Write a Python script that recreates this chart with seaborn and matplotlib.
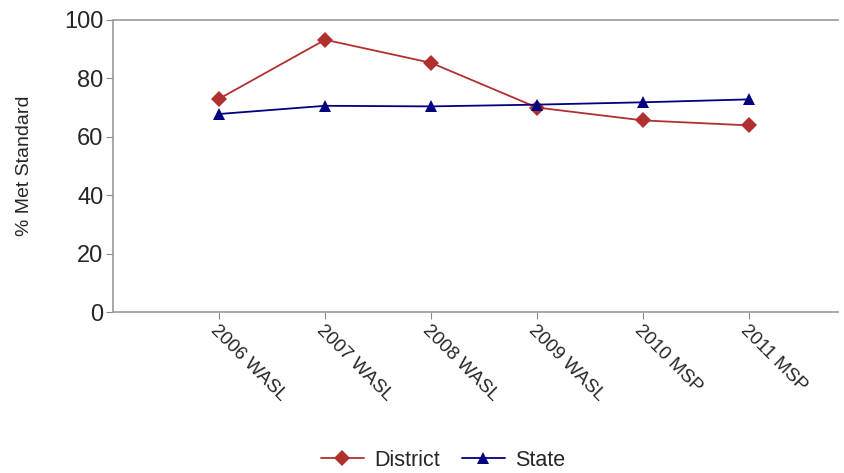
import matplotlib.pyplot as plt
import seaborn as sns
import pandas as pd

categories = ['2006 WASL', '2007 WASL', '2008 WASL', '2009 WASL', '2010 MSP', '2011 MSP']
district = [73.0, 93.2, 85.3, 70.0, 65.6, 63.9]
state = [67.8, 70.6, 70.4, 71.0, 71.8, 72.8]

df = pd.DataFrame({
    'idx': list(range(len(categories))) * 2,
    'value': district + state,
    'series': ['District'] * len(categories) + ['State'] * len(categories),
})

sns.set_style('white')
plt.rcParams['font.family'] = ['Liberation Sans', 'DejaVu Sans']

fig = plt.figure(figsize=(8.44, 4.73), dpi=100)
ax = fig.add_axes([0.134, 0.340, 0.859, 0.618])

sns.lineplot(data=df, x='idx', y='value', hue='series', style='series',
             markers={'District': 'D', 'State': '^'}, dashes=False,
             palette={'District': '#B03030', 'State': '#000080'},
             markersize=8, linewidth=1.3, markeredgewidth=0, ax=ax)

ax.set_xlim(-1, 5.84)
ax.set_ylim(0, 100)
ax.set_yticks(range(0, 101, 20))
ax.set_xticks(range(len(categories)))
ax.set_xticklabels(categories, rotation=-45, ha='left', rotation_mode='anchor', fontsize=13.5)
ax.tick_params(axis='y', labelsize=17, length=5, color='#888888', direction='out', left=True, pad=2)
ax.tick_params(axis='x', length=5, color='#888888', direction='out', bottom=True, pad=2)
ax.set_xlabel('')
ax.set_ylabel('% Met Standard', fontsize=14, labelpad=22)

for side in ['left', 'top', 'bottom']:
    ax.spines[side].set_color('#999999')
    ax.spines[side].set_linewidth(1.2)
ax.spines['right'].set_visible(False)

handles, labels = ax.get_legend_handles_labels()
ax.legend_.remove()
fig.legend(handles, labels, loc='center', bbox_to_anchor=(0.525, 0.027), ncol=2,
           frameon=False, fontsize=15.5, handlelength=2.0, columnspacing=1.0, handletextpad=0.5)

fig.savefig('out.png', dpi=100)
